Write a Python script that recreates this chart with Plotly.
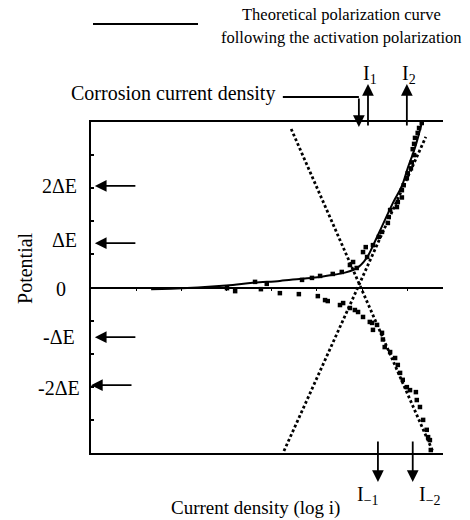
import plotly.graph_objects as go

# Theoretical activation-polarization curve (x: log i, y: potential)
theory_x = [1.33, 1.77, 2.99, 3.58, 4.18, 4.62, 5.07, 5.40, 5.62, 5.80, 5.93, 6.04, 6.14, 6.24, 6.39, 6.68, 6.88, 7.01, 7.17, 7.32]
theory_y = [-0.05, -0.04, 0.06, 0.14, 0.20, 0.26, 0.32, 0.39, 0.45, 0.53, 0.63, 0.78, 0.98, 1.26, 1.70, 2.55, 3.07, 3.61, 4.22, 4.97]

# Measured points, anodic branch
anodic_x = [7.32, 7.26, 7.23, 7.17, 7.15, 7.12, 7.15, 7.10, 7.08, 7.01, 6.99, 6.92, 6.88, 6.88,
            6.79, 6.77, 6.62, 6.59, 6.57, 6.44, 6.37, 6.24, 6.08, 6.02, 6.11, 5.80, 5.73, 5.88,
            5.55, 5.35, 5.07, 4.89, 4.67, 3.89, 3.63]
anodic_y = [4.97, 4.82, 4.67, 4.52, 4.34, 4.18, 4.00, 3.78, 3.60, 3.45, 3.30, 3.09, 2.94, 2.72,
            2.58, 2.43, 2.34, 2.13, 1.95, 1.68, 1.53, 1.28, 1.22, 1.07, 0.92, 0.77, 0.68, 0.59,
            0.47, 0.41, 0.35, 0.29, 0.23, 0.11, 0.17]

# Measured points, cathodic branch
cathodic_x = [3.01, 3.19, 3.76, 4.18, 4.60, 5.02, 5.18, 5.24, 5.51, 5.58, 5.73, 5.84, 5.91, 6.02,
              6.17, 6.22, 6.33, 6.24, 6.44, 6.46, 6.50, 6.62, 6.73, 6.79, 6.84, 6.90, 6.99, 7.06,
              7.19, 7.21, 7.28, 7.35, 7.43, 7.46, 7.50, 7.52]
cathodic_y = [-0.02, -0.11, -0.05, -0.17, -0.20, -0.26, -0.38, -0.41, -0.53, -0.47, -0.62, -0.68,
              -0.74, -0.89, -1.04, -1.07, -1.13, -1.28, -1.37, -1.57, -1.80, -1.95, -2.13, -2.34,
              -2.58, -2.79, -3.01, -3.10, -3.16, -3.40, -3.61, -4.00, -4.30, -4.52, -4.61, -4.91]

# Extrapolated Tafel lines
tafel_cathodic_x = [4.43, 7.57]
tafel_cathodic_y = [4.79, -4.97]
tafel_anodic_x = [4.27, 7.41]
tafel_anodic_y = [-4.94, 4.55]

# Potential labels and their positions
pot_labels = ["2ΔE", "ΔE", "0", "-ΔE", "-2ΔE"]
pot_label_y = [3.07, 1.44, -0.05, -1.50, -3.04]
pot_label_x = [-0.034, -0.034, -0.065, -0.040, -0.026]
pot_arrow_y = [3.07, 1.34, -1.50, -2.95]
pot_arrow_x = [0.011, 0.011, 0.011, 0.0]

# Marked current densities
i_top_labels = ["I<sub>1</sub>", "I<sub>2</sub>"]
i_top_x = [6.13, 6.99]
i_bot_labels = ["I<sub>−1</sub>", "I<sub>−2</sub>"]
i_bot_x = [6.35, 7.12]
i_bot_label_x = [6.13, 7.50]

XR = [0, 7.79]
YR = [-5, 5]
FONT = "Liberation Serif, Times New Roman, serif"
dot_line = dict(color="black", width=2.8, dash="2.8px,2.4px")


def txt(text, x, y, xref="paper", yref="paper", size=20, xanchor="center", **kw):
    return dict(text=text, x=x, y=y, xref=xref, yref=yref, showarrow=False,
                xanchor=xanchor, yanchor="middle",
                font=dict(size=size, family=FONT, color="black"), **kw)


fig = go.Figure()
fig.add_trace(go.Scatter(x=tafel_cathodic_x, y=tafel_cathodic_y, mode="lines",
                         line=dot_line, xaxis="x2", yaxis="y", hoverinfo="skip"))
fig.add_trace(go.Scatter(x=tafel_anodic_x, y=tafel_anodic_y, mode="lines",
                         line=dot_line, hoverinfo="skip"))
fig.add_trace(go.Scatter(x=theory_x, y=theory_y, mode="lines",
                         line=dict(color="black", width=2, shape="spline", smoothing=1.0)))
fig.add_trace(go.Scatter(x=anodic_x, y=anodic_y, mode="markers",
                         marker=dict(symbol="square", size=4.5, color="black")))
fig.add_trace(go.Scatter(x=cathodic_x, y=cathodic_y, mode="markers",
                         marker=dict(symbol="square", size=4.5, color="black")))

ann = []
arrow_style = dict(showarrow=True, arrowhead=2, arrowsize=1.3, arrowwidth=1.8,
                   arrowcolor="black", text="")

# potential tick labels and arrows
for lab, x, y in zip(pot_labels, pot_label_x, pot_label_y):
    ann.append(txt(lab, x, y, yref="y", xanchor="right"))
for x, y in zip(pot_arrow_x, pot_arrow_y):
    ann.append(dict(x=x, y=y, xref="paper", yref="y", ax=42, ay=0, **arrow_style))

# I1, I2 arrows (upward) and I-1, I-2 arrows (downward)
for lab, x in zip(i_top_labels, i_top_x):
    ann.append(dict(x=x, y=1.115, xref="x", yref="paper", ax=0, ay=43, **arrow_style))
    ann.append(txt(lab, x + 0.04, 1.145, xref="x"))
for x in i_bot_x:
    ann.append(dict(x=x, y=-0.0876, xref="x", yref="paper", ax=0, ay=-42, **arrow_style))
for lab, x in zip(i_bot_labels, i_bot_label_x):
    ann.append(txt(lab, x, -0.127, xref="x"))

# corrosion current density callout
ann.append(dict(x=0.761, y=0.985, xref="paper", yref="paper", ax=0, ay=-30, **arrow_style))
ann.append(txt("Corrosion current density", 0.528, 1.0876, xanchor="right"))

# legend text
ann.append(txt("Theoretical polarization curve", 0.713, 1.326, size=16.5))
ann.append(txt("following the activation polarization", 0.713, 1.254, size=16.5))

# axis titles
ann.append(txt("Potential", -0.1875, 0.559, textangle=-90))
ann.append(txt("Current density (log i)", 0.466, -0.166, size=19))

shapes = [
    dict(type="line", xref="paper", yref="paper", x0=0.0057, x1=0.304, y0=1.296, y1=1.296,
         line=dict(color="black", width=2)),
    dict(type="line", xref="paper", yref="paper", x0=0.545, x1=0.761, y0=1.0755, y1=1.0755,
         line=dict(color="black", width=1.8)),
]

fig.update_layout(
    width=470, height=520, autosize=False,
    margin=dict(l=91, r=27, t=122, b=67),
    paper_bgcolor="white", plot_bgcolor="white",
    showlegend=False,
    annotations=ann, shapes=shapes,
    xaxis=dict(range=XR, showline=True, mirror=True, linecolor="black", linewidth=1.5,
               ticks="", showticklabels=False, showgrid=False, zeroline=False, fixedrange=True),
    xaxis2=dict(range=XR, overlaying="x", anchor="free", position=0.5, side="bottom",
                showline=True, linecolor="black", linewidth=1.5, ticks="outside", ticklen=3,
                tickwidth=1.2, tickcolor="black", tickvals=[1, 2, 3, 4, 5, 6, 7],
                showticklabels=False, showgrid=False, zeroline=False),
    yaxis=dict(range=YR, showline=True, linecolor="black", linewidth=1.5, ticks="inside",
               ticklen=3, tickwidth=1.5, tickcolor="black", dtick=1, showticklabels=False,
               showgrid=False, zeroline=False),
)

fig.write_html("out.html", config={"displayModeBar": False})
